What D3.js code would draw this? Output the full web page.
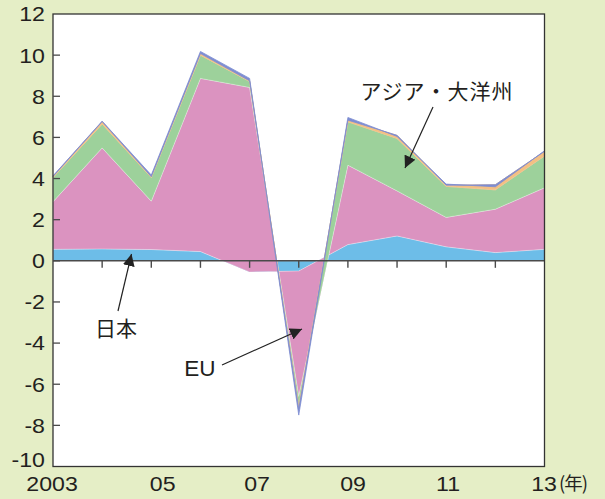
<!DOCTYPE html>
<html><head><meta charset="utf-8">
<script src="https://cdn.jsdelivr.net/npm/d3@7"></script>
<style>body{margin:0;background:#e5eec6}svg{display:block}</style>
</head><body><div id="chart"></div>
<script>
// ---- data ----
const years = [2003,2004,2005,2006,2007,2008,2009,2010,2011,2012,2013];
const japan = [0.56,0.58,0.55,0.45,-0.54,-0.50,0.79,1.21,0.68,0.40,0.56];
const eu    = [2.31,4.91,2.35,8.42,8.97,-6.10,3.86,2.19,1.43,2.11,2.99];
const asia  = [1.18,1.16,1.15,1.13,0.29,-0.50,2.11,2.55,1.51,0.94,1.55];
const layer4 = [0.05,0.12,0.04,0.08,0.03,-0.10,0.08,0.15,0.06,0.25,0.22];
const layer5 = [0.03,0.02,0.08,0.10,0.12,-0.30,0.13,-0.05,0.05,-0.10,0.03];
const seriesNames = ["日本","EU","アジア・大洋州","layer4","layer5"];
const yTicks = [-10,-8,-6,-4,-2,0,2,4,6,8,10,12];
const xLabelYears = [2003,2005,2007,2009,2011,2013];
const xLabels = ["2003","05","07","09","11","13"];
const unitLabel = "(年)";

// ---- drawing ----
const W = 605, H = 499;
const colors = ["#6dbde8","#db93c0","#9dd19b","#f3bf84","#7d8dd2"];
const x = d3.scaleLinear().domain([2003,2013]).range([53,544.5]);
const y = d3.scaleLinear().domain([-10,12]).range([466.5,14]);

const svg = d3.select("#chart").append("svg").attr("width",W).attr("height",H);
svg.append("rect").attr("width",W).attr("height",H).attr("fill","#e5eec6");
svg.append("rect").attr("x",x(2003)).attr("y",y(12)).attr("width",x(2013)-x(2003)).attr("height",y(-10)-y(12)).attr("fill","#fff");

const rows = years.map((yr,i)=>({year:yr,"日本":japan[i],"EU":eu[i],"アジア・大洋州":asia[i],"layer4":layer4[i],"layer5":layer5[i]}));
const stack = d3.stack().keys(seriesNames).order(d3.stackOrderNone).offset(d3.stackOffsetNone);
const layers = stack(rows);
const area = d3.area().x(d=>x(d.data.year)).y0(d=>y(d[0])).y1(d=>y(d[1]));
svg.append("g").selectAll("path").data(layers).join("path")
  .attr("d",area).attr("fill",(d,i)=>colors[i])
  .attr("stroke",(d,i)=> i>=3 ? colors[i] : "rgba(255,255,255,0.45)")
  .attr("stroke-width",(d,i)=> i>=3 ? 0.8 : 0.6);

// zero line + ticks
const axisCol = "#4a4a4a";
svg.append("line").attr("x1",x(2003)).attr("x2",x(2013)).attr("y1",y(0)).attr("y2",y(0)).attr("stroke",axisCol).attr("stroke-width",1.6);
svg.append("g").selectAll("line").data(years.slice(1,-1)).join("line")
  .attr("x1",d=>x(d)).attr("x2",d=>x(d)).attr("y1",y(0)).attr("y2",y(0)+7)
  .attr("stroke",axisCol).attr("stroke-width",1.4);

// frame
svg.append("rect").attr("x",x(2003)).attr("y",y(12)).attr("width",x(2013)-x(2003)).attr("height",y(-10)-y(12))
  .attr("fill","none").attr("stroke","#333").attr("stroke-width",1.3);

// y ticks
svg.append("g").selectAll("line").data(yTicks.slice(1,-1)).join("line")
  .attr("x1",x(2003)).attr("x2",x(2003)+7).attr("y1",d=>y(d)).attr("y2",d=>y(d))
  .attr("stroke",axisCol).attr("stroke-width",1.3);

const font = "'Liberation Sans', Arial, Helvetica, sans-serif";
const txtCol = "#231f20";
svg.append("g").selectAll("text").data(yTicks).join("text")
  .attr("transform",d=>`translate(45,${y(d)+7.4-(d===-10?7:0)}) scale(1.13,1)`)
  .attr("text-anchor","end").attr("font-family",font).attr("font-size",20.5).attr("fill",txtCol)
  .text(d=>d);

const labelDx = [-1, 11.4, 7.4, 5.1, 1.8, -0.5];
svg.append("g").selectAll("text").data(xLabels).join("text")
  .attr("transform",(d,i)=>`translate(${x(xLabelYears[i])+labelDx[i]},491) scale(1.13,1)`)
  .attr("text-anchor","middle").attr("font-family",font).attr("font-size",20.5).attr("fill",txtCol)
  .text(d=>d);
svg.append("text").attr("x",559).attr("y",489.5).attr("font-family","'Noto Sans CJK JP', sans-serif")
  .attr("font-size",18.5).attr("fill",txtCol).attr("letter-spacing",-1).text(unitLabel);

// annotations
const jpFont = "'Noto Sans CJK JP', sans-serif";
svg.append("defs").append("marker").attr("id","ah").attr("viewBox","0 0 10 10").attr("refX",10).attr("refY",5)
  .attr("markerWidth",12).attr("markerHeight",12).attr("markerUnits","userSpaceOnUse").attr("orient","auto")
  .append("path").attr("d","M0,0 L10,5 L0,10 z").attr("fill","#222");
function arrow(x1,y1,x2,y2){
  svg.append("line").attr("x1",x1).attr("y1",y1).attr("x2",x2).attr("y2",y2)
    .attr("stroke","#222").attr("stroke-width",1.2).attr("marker-end","url(#ah)");
}
svg.append("text").attr("x",437).attr("y",98.5).attr("text-anchor","middle").attr("font-family",jpFont)
  .attr("font-size",21).attr("letter-spacing",1).attr("fill",txtCol).text(seriesNames[2]);
arrow(433,107,405,168);
svg.append("text").attr("x",116).attr("y",336).attr("text-anchor","middle").attr("font-family",jpFont)
  .attr("font-size",21).attr("fill",txtCol).text(seriesNames[0]);
arrow(118,311,131.5,254);
svg.append("text").attr("x",200).attr("y",376).attr("text-anchor","middle").attr("font-family",font)
  .attr("font-size",22.5).attr("fill",txtCol).text(seriesNames[1]);
arrow(222,365,302,329);
</script></body></html>
